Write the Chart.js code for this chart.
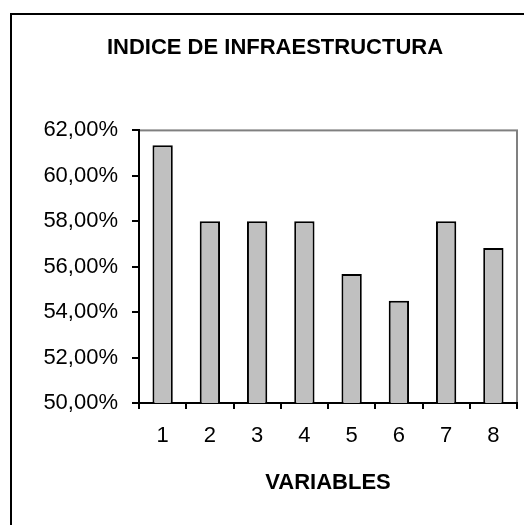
<!DOCTYPE html>
<html>
<head>
<meta charset="utf-8">
<script src="https://cdn.jsdelivr.net/npm/chart.js@4"></script>
<style>
  html, body { margin: 0; padding: 0; background: #fff; }
  #clip { position: absolute; left: 0; top: 0; width: 524px; height: 525px; overflow: hidden; }
  #frame { position: absolute; left: 10px; top: 13px; width: 540px; height: 540px; border: 2.5px solid #000; }
  #wrap { position: absolute; left: 0; top: 0; width: 550px; height: 525px; }
</style>
</head>
<body>
<div id="clip">
  <div id="frame"></div>
  <div id="wrap"><canvas id="infraChart"></canvas></div>
</div>
<script>
// datos del grafico
const categorias = ['1', '2', '3', '4', '5', '6', '7', '8'];
const indice = [61.35, 58.0, 58.0, 58.0, 55.68, 54.5, 58.0, 56.82];
const ejeY = { min: 50, max: 62, paso: 2 };

const fmtPct = (v) => v.toFixed(2).replace('.', ',') + '%';

// borde gris del area de trazado (arriba y derecha)
const plotBorder = {
  id: 'plotBorder',
  beforeDraw(chart) {
    const { ctx, chartArea: a } = chart;
    ctx.save();
    ctx.strokeStyle = '#808080';
    ctx.lineWidth = 2;
    ctx.strokeRect(a.left, a.top, a.right - a.left, a.bottom - a.top);
    ctx.restore();
  }
};

document.addEventListener('DOMContentLoaded', () => {
  const ctx = document.getElementById('infraChart');
  new Chart(ctx, {
    type: 'bar',
    data: {
      labels: categorias,
      datasets: [{
        data: indice,
        backgroundColor: '#C0C0C0',
        borderColor: '#000',
        borderWidth: 2,
        borderSkipped: false,
        barPercentage: 0.43,
        categoryPercentage: 1
      }]
    },
    options: {
      responsive: true,
      maintainAspectRatio: false,
      animation: false,
      layout: { padding: { left: 33, right: 33, top: 0, bottom: 0 } },
      plugins: {
        legend: { display: false },
        tooltip: { enabled: false },
        title: {
          display: true,
          text: 'INDICE DE INFRAESTRUCTURA',
          color: '#000',
          font: { family: 'Liberation Sans, Arial', size: 22, weight: 'bold' },
          padding: { top: 35, bottom: 69 }
        }
      },
      scales: {
        x: {
          afterFit: (s) => { s.height = 122; },
          grid: { drawOnChartArea: false, drawTicks: true, tickLength: 6, color: '#000', lineWidth: 2, offset: true },
          border: { color: '#000', width: 2 },
          ticks: { color: '#000', padding: 14, font: { family: 'Liberation Sans, Arial', size: 22 } },
          title: {
            display: true,
            text: 'VARIABLES',
            color: '#000',
            font: { family: 'Liberation Sans, Arial', size: 22, weight: 'bold' },
            padding: { top: 0, bottom: 29 }
          }
        },
        y: {
          min: ejeY.min,
          max: ejeY.max,
          afterFit: (s) => { s.width = 106; },
          grid: { drawOnChartArea: false, drawTicks: true, tickLength: 7, color: '#000', lineWidth: 2 },
          border: { color: '#000', width: 2 },
          ticks: {
            stepSize: ejeY.paso,
            color: '#000',
            padding: 14,
            font: { family: 'Liberation Sans, Arial', size: 22 },
            callback: (v) => fmtPct(v)
          }
        }
      }
    },
    plugins: [plotBorder]
  });
});
</script>
</body>
</html>
